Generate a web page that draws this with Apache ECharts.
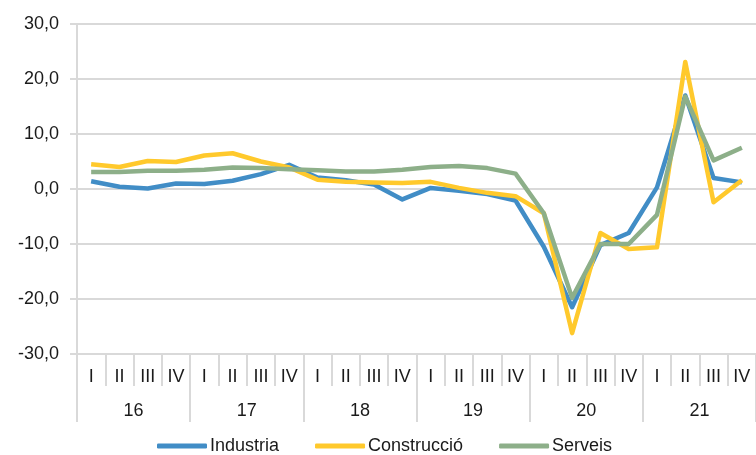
<!DOCTYPE html>
<html>
<head>
<meta charset="utf-8">
<script src="https://cdn.jsdelivr.net/npm/echarts@6/dist/echarts.min.js"></script>
<style>
html,body{margin:0;padding:0;background:#fff;}
#chart{width:756px;height:455px;}
</style>
</head>
<body>
<div id="chart"></div>
<script>
var quarters = ['I','II','III','IV','I','II','III','IV','I','II','III','IV','I','II','III','IV','I','II','III','IV','I','II','III','IV'];
var years = ['16','17','18','19','20','21'];
var industria = [1.4,0.4,0.1,1.0,0.9,1.5,2.7,4.4,2.1,1.6,0.8,-1.9,0.2,-0.3,-0.9,-2.1,-10.5,-21.5,-10.2,-8.0,0.3,17.0,2.0,1.2];
var construccio = [4.5,4.0,5.1,4.9,6.1,6.5,5.0,3.9,1.7,1.3,1.2,1.1,1.3,0.2,-0.7,-1.3,-4.4,-26.2,-8.0,-10.9,-10.6,23.1,-2.4,1.6];
var serveis = [3.1,3.1,3.3,3.3,3.5,3.9,3.8,3.6,3.4,3.2,3.2,3.5,4.0,4.2,3.8,2.8,-4.4,-19.8,-10.0,-10.0,-4.7,16.8,5.2,7.5];
var yTicks = {min:-30, max:30, interval:10};

var chart = echarts.init(document.getElementById('chart'));
var txt = '#1a1a1a';
var gridCol = '#d9d9d9';
var ff = 'Liberation Sans, Arial, sans-serif';
chart.setOption({
  animation:false,
  textStyle:{fontFamily:ff},
  grid:{left:77, right:-7, top:24, bottom:101},
  legend:{
    top:437, left:157, padding:0,
    icon:'roundRect', itemWidth:50, itemHeight:5, itemGap:36,
    textStyle:{fontSize:18, color:txt, fontFamily:ff, padding:[0,0,0,-2]},
    data:['Industria','Construcció','Serveis']
  },
  xAxis:[
    {type:'category', data:quarters, boundaryGap:true, position:'bottom',
     axisLine:{show:true, onZero:false, lineStyle:{color:gridCol, width:2}},
     axisTick:{show:true, interval:0, length:32, lineStyle:{color:gridCol, width:2}},
     axisLabel:{interval:0, margin:14, fontSize:18, color:txt}},
    {type:'category', data:years, boundaryGap:true, position:'bottom',
     axisLine:{show:false, onZero:false},
     axisTick:{show:true, interval:0, length:68, lineStyle:{color:gridCol, width:2}},
     axisLabel:{interval:0, margin:48, fontSize:18, color:txt}}
  ],
  yAxis:{type:'value', min:yTicks.min, max:yTicks.max, interval:yTicks.interval,
    axisLine:{show:true, lineStyle:{color:gridCol, width:2}},
    axisTick:{show:true, length:7, lineStyle:{color:gridCol, width:2}},
    splitLine:{show:true, lineStyle:{color:gridCol, width:2}},
    axisLabel:{margin:18, fontSize:18, color:txt,
      formatter:function(v){return v.toFixed(1).replace('.',',');}}
  },
  series:[
    {name:'Industria', type:'line', data:industria, showSymbol:false, symbol:'none',
     lineStyle:{color:'#418DC6', width:4.5, join:'round'}, itemStyle:{color:'#418DC6'}},
    {name:'Construcció', type:'line', data:construccio, showSymbol:false, symbol:'none',
     lineStyle:{color:'#FFC92C', width:4.5, join:'round'}, itemStyle:{color:'#FFC92C'}},
    {name:'Serveis', type:'line', data:serveis, showSymbol:false, symbol:'none',
     lineStyle:{color:'#8DAF89', width:4.5, join:'round'}, itemStyle:{color:'#8DAF89'}}
  ]
});
</script>
</body>
</html>
